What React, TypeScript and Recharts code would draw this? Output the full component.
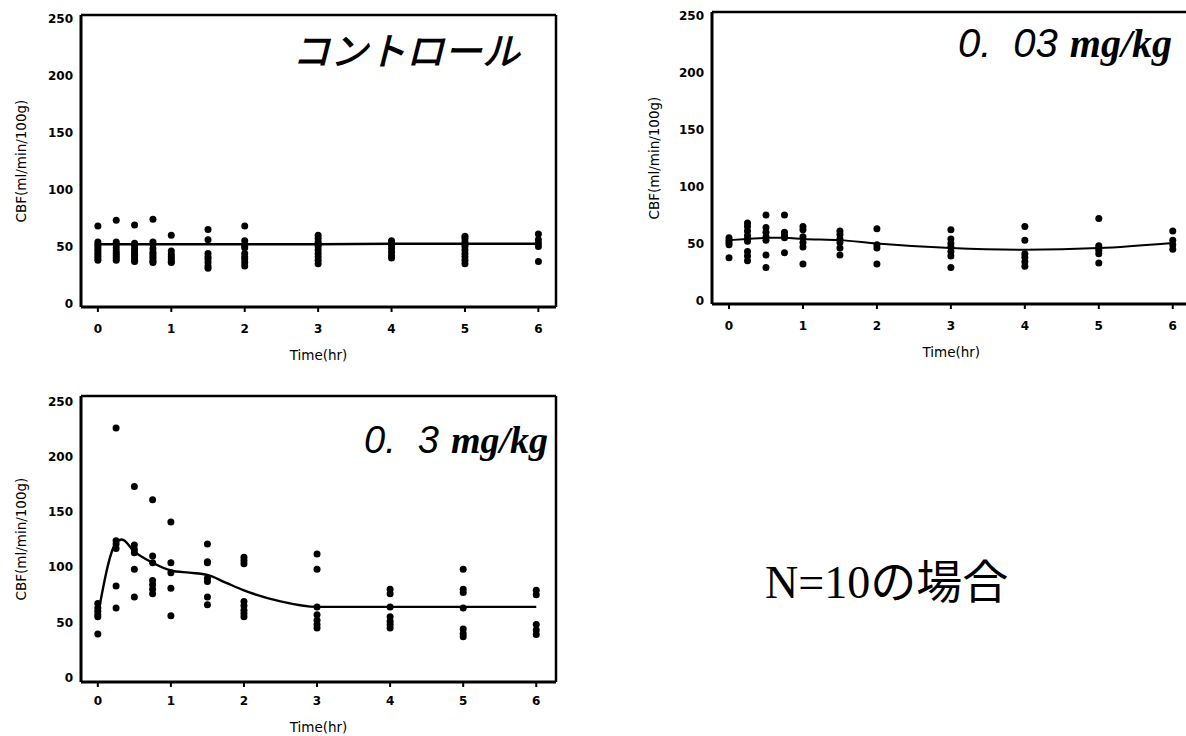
import React from "react";
import { ComposedChart, Scatter, Line, XAxis, YAxis, ReferenceLine } from "recharts";

// sampling times (hr) shared by all three groups
const TIMES = [0, 0.25, 0.5, 0.75, 1, 1.5, 2, 3, 4, 5, 6];
const X_TICKS = [0, 1, 2, 3, 4, 5, 6];
const Y_TICKS = [0, 50, 100, 150, 200, 250];

// コントロール : individual CBF values per time point
const controlCBF = [
  [68, 54, 52, 50, 48, 46, 44, 42, 40, 38],
  [73, 54, 52, 49, 46, 44, 42, 40, 38],
  [69, 53, 51, 48, 46, 44, 42, 40, 38, 37],
  [74, 54, 52, 48, 45, 43, 41, 39, 37, 36],
  [60, 46, 43, 41, 39, 37, 36],
  [65, 56, 44, 41, 39, 36, 33, 31],
  [68, 55, 51, 49, 44, 41, 39, 36, 33],
  [60, 57, 54, 52, 50, 47, 44, 41, 38, 35],
  [55, 53, 51, 48, 45, 42, 40],
  [59, 57, 54, 52, 50, 47, 44, 41, 38, 35],
  [61, 56, 53, 50, 37],
];
const controlFit = [52, 52, 52, 52, 52, 52, 52, 52, 52.5, 52.5, 52.5];

// 0.03 mg/kg
const lowDoseCBF = [
  [55, 53, 51, 49, 37.5],
  [68, 65, 61, 57, 54, 52, 43, 39, 35],
  [75, 64, 60, 56, 53, 40, 29],
  [75, 60, 57, 55, 42],
  [65, 62, 56, 51, 47, 32],
  [61, 58, 54, 51, 46, 40],
  [63, 49, 46, 32],
  [62, 54, 50, 47, 43, 39, 29],
  [65, 53, 41, 38, 34, 30],
  [72, 48, 46, 44, 41, 33],
  [61, 53, 49, 45],
];
const lowDoseFit = [53, 54, 55, 55, 54, 53, 50, 46, 44.5, 46, 50.5];

// 0.3 mg/kg
const highDoseCBF = [
  [67, 63, 60, 57, 55, 39.5],
  [226, 124, 121, 117, 83, 63],
  [173, 120, 116, 113, 98, 73],
  [161, 110, 104, 88, 84, 80, 76],
  [141, 104, 95, 81, 56],
  [121, 105, 104, 90, 87, 73, 66],
  [109, 106, 103, 69, 65, 61, 58, 55],
  [112, 98, 64, 57, 52, 48, 45],
  [80, 76, 64, 55, 51, 48, 45],
  [98, 80, 77, 63, 44, 40, 37],
  [79, 75, 48, 43, 39],
];
const highDoseFitTimes = [0, 0.25, 0.33, 0.5, 0.75, 1, 1.25, 1.5, 1.75, 2, 2.5, 3, 4, 5, 6];
const highDoseFit = [56, 122, 125, 114, 104, 97, 95, 93, 86, 79, 69, 64, 64, 64, 64];

const toPoints = (cols: number[][]) =>
  cols.flatMap((col, i) => col.map((v) => ({ t: TIMES[i], cbf: v })));
const toCurve = (times: number[], vals: number[]) =>
  times.map((t, i) => ({ t, cbf: vals[i] }));

const TICK_FONT = { fontFamily: "DejaVu Sans", fontWeight: 700, fontSize: 12, fill: "#000" };
const LABEL_FONT = { fontFamily: "DejaVu Sans", fontSize: 13.5, fill: "#000" };

const Dot = (props: any) => <circle cx={props.cx} cy={props.cy} r={3.5} fill="#000" />;

const Panel = ({ box, margin, xDomain, yDomain, points, curve, tickMargin, timeOffset, lineWidth }: any) => (
  <div style={{ position: "absolute", left: box.left, top: box.top }}>
    <ComposedChart width={box.width} height={box.height} margin={margin}>
      <XAxis
        type="number"
        dataKey="t"
        domain={xDomain}
        ticks={X_TICKS}
        interval={0}
        height={box.xAxisHeight}
        tickSize={5}
        tickMargin={tickMargin}
        tick={TICK_FONT}
        tickLine={{ stroke: "#000", strokeWidth: 2 }}
        axisLine={{ stroke: "#000", strokeWidth: 3 }}
        label={{ value: "Time(hr)", position: "insideBottom", offset: timeOffset, style: LABEL_FONT }}
      />
      <YAxis
        type="number"
        dataKey="cbf"
        domain={yDomain}
        ticks={Y_TICKS}
        interval={0}
        width={box.yAxisWidth}
        tickSize={0}
        tickMargin={8}
        tickLine={false}
        tick={TICK_FONT}
        axisLine={{ stroke: "#000", strokeWidth: 3 }}
        label={{
          value: "CBF(ml/min/100g)",
          angle: -90,
          position: "insideLeft",
          offset: 5,
          style: { ...LABEL_FONT, textAnchor: "middle" },
        }}
      />
      {/* top and right edges of the box frame */}
      <ReferenceLine y={yDomain[1]} stroke="#000" strokeWidth={2.5} />
      <ReferenceLine x={xDomain[1]} stroke="#000" strokeWidth={2.5} />
      <Scatter data={points} dataKey="cbf" shape={Dot} isAnimationActive={false} />
      <Line data={curve} dataKey="cbf" type="monotone" stroke="#000" strokeWidth={lineWidth} dot={false} isAnimationActive={false} />
    </ComposedChart>
  </div>
);

const titleSans = { fontFamily: "Liberation Sans", fontStyle: "italic" as const };
const titleSerif = { fontFamily: "Liberation Serif", fontStyle: "italic" as const, fontWeight: 700 };

export default function App() {
  return (
    <div style={{ position: "fixed", left: 0, top: 0, width: 1186, height: 736, overflow: "hidden", background: "#fff" }}>
      <Panel
        box={{ left: 0, top: 0, width: 570, height: 370, xAxisHeight: 60, yAxisWidth: 65 }}
        margin={{ top: 15, right: 14, left: 16, bottom: 3 }}
        xDomain={[-0.23, 6.24]}
        yDomain={[-3, 253]}
        points={toPoints(controlCBF)}
        curve={toCurve(TIMES, controlFit)}
        tickMargin={12}
        timeOffset={7}
        lineWidth={2.6}
      />
      <Panel
        box={{ left: 640, top: 0, width: 570, height: 370, xAxisHeight: 60, yAxisWidth: 63 }}
        margin={{ top: 12, right: 19.5, left: 9, bottom: 6 }}
        xDomain={[-0.23, 6.24]}
        yDomain={[-3, 253]}
        points={toPoints(lowDoseCBF)}
        curve={toCurve(TIMES, lowDoseFit)}
        tickMargin={12}
        timeOffset={7}
        lineWidth={2}
      />
      <Panel
        box={{ left: 0, top: 380, width: 570, height: 356, xAxisHeight: 54, yAxisWidth: 65 }}
        margin={{ top: 16, right: 14, left: 16, bottom: 0 }}
        xDomain={[-0.23, 6.27]}
        yDomain={[-4, 255]}
        points={toPoints(highDoseCBF)}
        curve={toCurve(highDoseFitTimes, highDoseFit)}
        tickMargin={9}
        timeOffset={4}
        lineWidth={2.4}
      />

      <div style={{ position: "absolute", left: 270, top: 30, width: 250, textAlign: "right", fontFamily: "Noto Sans CJK JP", fontStyle: "italic", fontWeight: 500, fontSize: 38, lineHeight: 1, whiteSpace: "nowrap" }}>
        コントロール
      </div>
      <div style={{ position: "absolute", left: 872, top: 23, width: 300, textAlign: "right", fontSize: 40, lineHeight: 1, whiteSpace: "nowrap" }}>
        <span style={titleSans}>0.</span>
        <span style={{ ...titleSans, marginLeft: 22 }}>03</span>
        <span style={{ ...titleSerif, marginLeft: 12 }}>mg/kg</span>
      </div>
      <div style={{ position: "absolute", left: 248, top: 421, width: 300, textAlign: "right", fontSize: 38, lineHeight: 1, whiteSpace: "nowrap" }}>
        <span style={titleSans}>0.</span>
        <span style={{ ...titleSans, marginLeft: 22 }}>3</span>
        <span style={{ ...titleSerif, marginLeft: 12 }}>mg/kg</span>
      </div>

      <div style={{ position: "absolute", left: 765, top: 560, fontFamily: "'Liberation Serif', 'Noto Sans CJK JP'", fontSize: 46, lineHeight: 1, whiteSpace: "nowrap" }}>
        N=10の場合
      </div>
    </div>
  );
}
